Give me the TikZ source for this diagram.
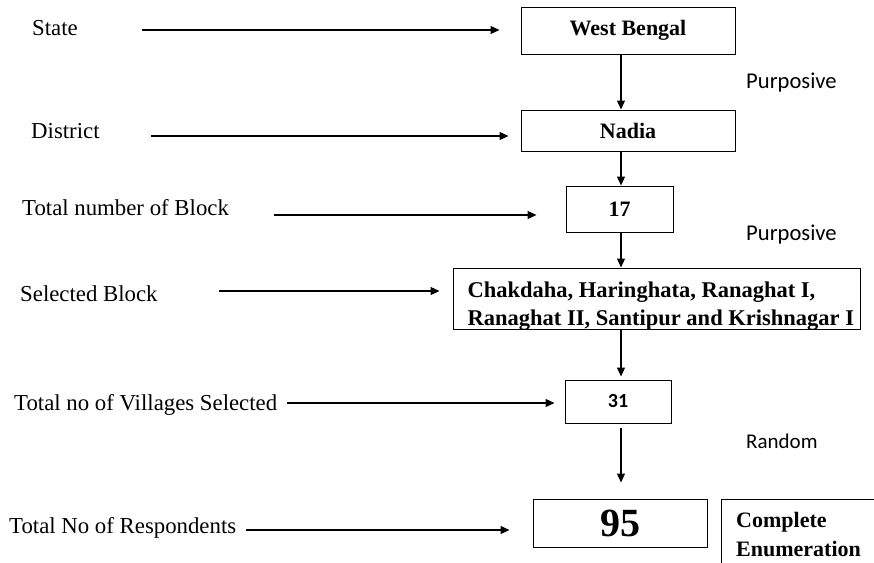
\documentclass[tikz,border=0pt]{standalone}
\usepackage{fontspec}
\setmainfont{Liberation Serif}
\newfontfamily\calib{Carlito}
\usetikzlibrary{arrows.meta}
\tikzset{>={Triangle[length=9pt,width=8pt]},flow/.style={line width=1.1pt,->},edge/.style={line width=1pt},
 box/.style={draw,line width=1pt,inner sep=0pt,font=\fontsize{22}{28}\selectfont\bfseries},
 boxtext/.style={inner sep=0pt,align=left,font=\fontsize{22.5}{28}\selectfont\bfseries},
 lbl/.style={anchor=base west,inner sep=0pt,font=\fontsize{22.8}{26}\selectfont},
 meth/.style={anchor=base west,inner sep=0pt,font=\calib\fontsize{22.6}{26}\selectfont}}

\begin{document}
\begin{tikzpicture}[x=1pt,y=-1pt]
\useasboundingbox (0,0) rectangle (874,562);
% boxes of the sampling stages
\node[box,minimum width=214pt,minimum height=47pt] (wb) at (628,30.5){West Bengal};
\node[box,minimum width=214pt,minimum height=41pt] (nadia) at (628,130.5){Nadia};
\node[box,minimum width=107pt,minimum height=46pt] (n17) at (619.5,209){17};
\node[box,minimum width=407pt,minimum height=61pt] (sel) at (656.5,298.5){};
\node[boxtext,anchor=west] (seltext) at ([xshift=15pt,yshift=-8pt]sel.west){Chakdaha, Haringhata, Ranaghat I,\\Ranaghat II, Santipur and Krishnagar I};
\node[box,minimum width=106pt,minimum height=43pt,font=\calib\fontsize{20}{24}\selectfont\bfseries] (v31) at (618,401.5){31};
\node[box,minimum width=174pt,minimum height=48pt,font=\fontsize{40}{44}\selectfont\bfseries] (r95) at (620,523){95};
\node[boxtext,font=\fontsize{22}{29}\selectfont\bfseries,anchor=north west,inner xsep=15pt,inner ysep=13pt] (ce) at (721,499){Complete\\Enumeration};
\draw[edge] (ce.south west) -- (ce.north west) -- ([xshift=10pt]ce.north east);
% levels on the left
\node[lbl] (state) at (32,35){State};
\node[lbl] (district) at (31,138){District};
\node[lbl] (block) at (22,215){Total number of Block};
\node[lbl] (selblock) at (20,301){Selected Block};
\node[lbl] (villages) at (14,410){Total no of Villages Selected};
\node[lbl] (resp) at (9,533){Total No of Respondents};
% methods
\node[meth] (purp1) at (746,88){Purposive};
\node[meth] (purp2) at (746,240){Purposive};
\node[meth,font=\calib\fontsize{21}{24}\selectfont] (random) at (746,448){Random};
% horizontal arrows
\coordinate (t1) at (142,30);\coordinate (t2) at (151,136);\coordinate (t3) at (274,215);
\coordinate (t4) at (219,291);\coordinate (t5) at (287,403);\coordinate (t6) at (246,530);
\draw[flow,shorten >=21pt] (t1) -- (t1 -| wb.west);
\draw[flow,shorten >=12pt] (t2) -- (t2 -| nadia.west);
\draw[flow,shorten >=29pt] (t3) -- (t3 -| n17.west);
\draw[flow,shorten >=13pt] (t4) -- (t4 -| sel.west);
\draw[flow,shorten >=10pt] (t5) -- (t5 -| v31.west);
\draw[flow,shorten >=23pt] (t6) -- (t6 -| r95.west);
% vertical arrows
\coordinate (ax) at (621,0);
\draw[flow] (ax |- wb.south) -- (ax |- nadia.north);
\draw[flow] (ax |- nadia.south) -- (ax |- n17.north);
\draw[flow] (ax |- n17.south) -- (ax |- sel.north);
\draw[flow,shorten >=3pt] (ax |- sel.south) -- (ax |- v31.north);
\draw[flow,shorten <=4pt,shorten >=16pt] (ax |- v31.south) -- (ax |- r95.north);
\end{tikzpicture}
\end{document}
